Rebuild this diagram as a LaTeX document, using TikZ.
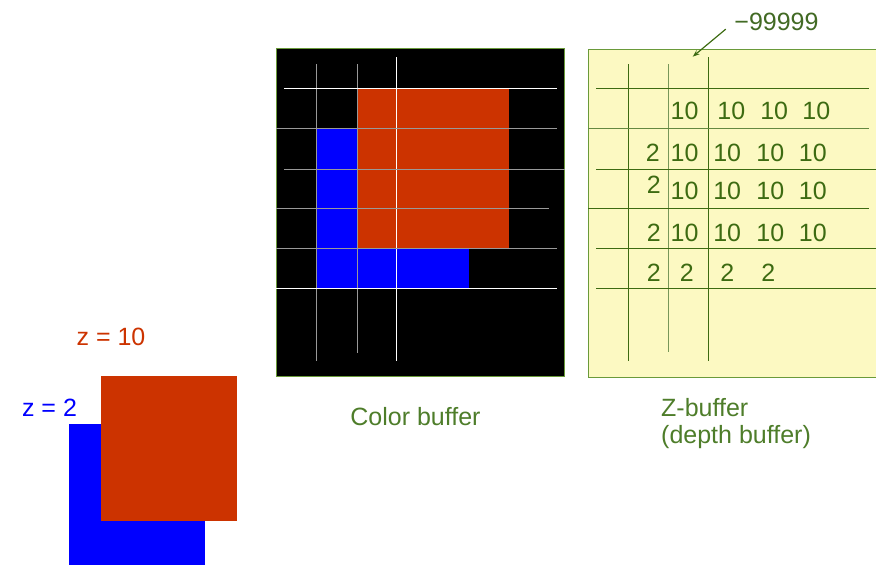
\documentclass[tikz,border=0pt]{standalone}
\usepackage{fontspec}
\setmainfont{Liberation Sans}
\usetikzlibrary{positioning,arrows.meta}

\definecolor{zred}{HTML}{CC3300}
\definecolor{zblue}{HTML}{0000FF}
\definecolor{zyellow}{HTML}{FCF9C2}
\definecolor{ztext}{HTML}{4E7D2A}
\definecolor{zline}{HTML}{3D6B12}
\definecolor{zframe}{HTML}{6A9A3A}

\tikzset{
    lbl/.style={font=\fontsize{25}{28}\selectfont, inner sep=0pt, anchor=base},
    num/.style={lbl, text=zline},
    cgrid/.style={white, line width=1pt},
    cgridgray/.style={white!60!black, line width=1pt},
    zgrid/.style={zline, line width=1pt},
}

\begin{document}
\begin{tikzpicture}[x=1pt, y=-1pt]
        \useasboundingbox (0,0) rectangle (876,565);
        % the two squares
        \fill[zblue] (68.7,424.3) rectangle (205,565);
        \fill[zred] (100.7,376) rectangle (237,520.7);
        \node[lbl, text=zred](zten) at (111,345){z = 10};
        \node[lbl, text=zblue](ztwo) at (49.5,416){z = 2};

        % color buffer
        \draw[zframe, fill=black] (276,48) rectangle (564.5,376);
        \fill[zred] (357,88.7) rectangle (509,248.7);
        \fill[zblue] (316.7,128.7) rectangle (357,288.3);
        \fill[zblue] (316.7,248.7) rectangle (469,288.3);
        \draw[cgridgray] (316.7,64) -- (316.7,361);
        \draw[cgridgray] (357,64) -- (357,353);
        \draw[cgrid] (396.3,57) -- (396.3,361);
        \draw[cgrid] (284,88.7) -- (557,88.7);
        \draw[cgridgray] (276,128.7) -- (557,128.7);
        \draw[cgridgray] (284,169) -- (564.5,169);
        \draw[cgridgray] (276,208.7) -- (549,208.7);
        \draw[cgridgray] (276,248.7) -- (557,248.7);
        \draw[cgrid] (276,288.3) -- (557,288.3);
        \node[lbl, text=ztext](cbuf) at (415.5,425){Color buffer};

        % z-buffer
        \draw[zframe, fill=zyellow] (588,49) rectangle (876,377);
        \draw[zgrid] (628.7,64) -- (628.7,361);
        \draw[zgrid, zline!70] (668.7,64) -- (668.7,352);
        \draw[zgrid] (708.3,57) -- (708.3,361);
        \draw[zgrid] (596,88.3) -- (869,88.3);
        \draw[zgrid, zline!80] (588,128.3) -- (869,128.3);
        \draw[zgrid] (596,169) -- (876,169);
        \draw[zgrid] (588,208.7) -- (869,208.7);
        \draw[zgrid] (596,248.7) -- (876,248.7);
        \draw[zgrid] (596,288.3) -- (876,288.3);

        \node[num](a2) at (684.5,119){10};
        \node[num](a3) at (731.3,119){10};
        \node[num](a4) at (774.2,119){10};
        \node[num](a5) at (816.3,119){10};

        \node[num](b1) at (652.7,161.7){2};
        \node[num](b2) at (684.5,161.7){10};
        \node[num](b3) at (727.2,161.7){10};
        \node[num](b4) at (770.3,161.7){10};
        \node[num](b5) at (812.8,161.7){10};

        \node[num](c1) at (653.7,193){2};
        \node[num](c2) at (684.5,199){10};
        \node[num](c3) at (727.2,199){10};
        \node[num](c4) at (770.3,199){10};
        \node[num](c5) at (812.8,199){10};

        \node[num](d1) at (653.7,241.7){2};
        \node[num](d2) at (684.5,241.7){10};
        \node[num](d3) at (727.2,241.7){10};
        \node[num](d4) at (770.3,241.7){10};
        \node[num](d5) at (812.8,241.7){10};

        \node[num](e1) at (653.7,281.7){2};
        \node[num](e2) at (686.7,281.7){2};
        \node[num](e3) at (727.3,281.7){2};
        \node[num](e4) at (768.3,281.7){2};

        \node[lbl, text=ztext!85!black](init) at (776.5,30.7){−99999};
        \coordinate (cell) at (692.7,56.7);
        \draw[zline, line width=1.2pt, -{Stealth[length=7pt, width=5pt]}, shorten <=11pt]
        (init.west) -- (cell);

        \node[lbl, anchor=base west, text=ztext](zbuf) at (661,416){Z-buffer};
        \node[lbl, anchor=base west, text=ztext](zbufsub) at (661,443){(depth buffer)};
    \end{tikzpicture}
\end{document}
